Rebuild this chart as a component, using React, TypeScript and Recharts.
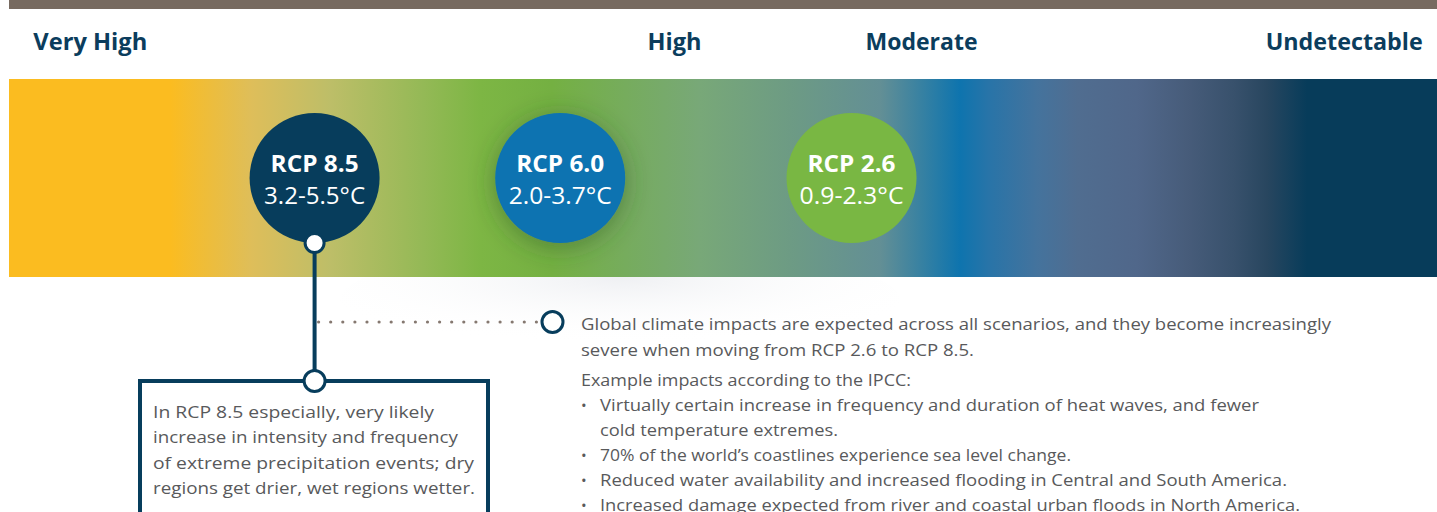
import React from 'react';
import { ScatterChart, Scatter, XAxis, YAxis, ReferenceArea, Customized } from 'recharts';

// scenarios placed along the risk scale (0 = very high risk, 100 = undetectable)
const scenarios = ['RCP 8.5', 'RCP 6.0', 'RCP 2.6'];
const warmingRanges = ['3.2-5.5°C', '2.0-3.7°C', '0.9-2.3°C'];
const scalePositions = [21.4, 38.6, 59.0];

const riskLabels = ['Very High', 'High', 'Moderate', 'Undetectable'];
const riskTicks = [1.7, 46.6, 63.9, 99.0];

const calloutScenario = 'RCP 8.5';
const calloutLines = [
    'In RCP 8.5 especially, very likely',
    'increase in intensity and frequency',
    'of extreme precipitation events; dry',
    'regions get drier, wet regions wetter.',
];

const globalNote = [
    'Global climate impacts are expected across all scenarios, and they become increasingly',
    'severe when moving from RCP 2.6 to RCP 8.5.',
];
const examplesTitle = 'Example impacts according to the IPCC:';
const impactBullets = [
    ['Virtually certain increase in frequency and duration of heat waves, and fewer', 'cold temperature extremes.'],
    ['70% of the world\u2019s coastlines experience sea level change.'],
    ['Reduced water availability and increased flooding in Central and South America.'],
    ['Increased damage expected from river and coastal urban floods in North America.'],
];

const data = scenarios.map((name, i) => ({
    name,
    range: warmingRanges[i],
    pos: scalePositions[i],
    level: 0,
}));

// styling
const W = 1437;
const H = 512;
const NAVY = '#073D5C';
const TEXT = '#58595B';
const FONT = '"Open Sans", "Noto Sans", sans-serif';
const bubbleFill: Record<string, string> = { 'RCP 8.5': '#073D5C', 'RCP 6.0': '#0B73B1', 'RCP 2.6': '#79B743' };
const labelWidths = [114, 54, 112, 157];
const nameWidth = 88;
const rangeWidths: Record<string, number> = { 'RCP 8.5': 101, 'RCP 6.0': 103, 'RCP 2.6': 104 };
const calloutWidths = [281, 305, 321, 322];
const noteWidths = [750, 393];
const titleWidth = 330;
const bulletWidths = [[659, 238], [471], [687], [700]];

const gradientStops: [number, string][] = [
    [0, '#FBBC20'], [0.113, '#FBBC20'], [0.17, '#DEBE5A'], [0.225, '#BDBE68'],
    [0.29, '#94B956'], [0.33, '#7DB644'], [0.38, '#74B042'], [0.484, '#78A878'],
    [0.547, '#6D9B84'], [0.61, '#638F95'], [0.666, '#0E74AE'], [0.686, '#2874A8'],
    [0.72, '#44739D'], [0.748, '#506D90'], [0.79, '#50678A'], [0.825, '#475C7A'],
    [0.858, '#38516C'], [0.881, '#28465F'], [0.909, '#073C5A'], [1, '#073C5A'],
];

const RiskTick = (props: any) => {
    const { x, payload } = props;
    const i = riskTicks.indexOf(payload.value);
    if (i < 0) return null;
    const anchor = i === 0 ? 'start' : i === riskLabels.length - 1 ? 'end' : 'middle';
    return (
        <text x={x} y={50} textAnchor={anchor} fill="#0B3D5D" fontFamily={FONT} fontWeight={700} fontSize={23}
            textLength={labelWidths[i]} lengthAdjust="spacingAndGlyphs">
            {riskLabels[i]}
        </text>
    );
};

const Bubble = (props: any) => {
    const { cx, cy, payload } = props;
    const r = 65;
    const hasCallout = payload.name === calloutScenario;
    const boxTop = 381;
    const dotY = 322;
    const dots = [];
    for (let dx = cx + 4; dx <= 537; dx += 12.1) dots.push(dx);
    return (
        <g>
            {hasCallout && (
                <g>
                    <line x1={cx} y1={cy + r} x2={cx} y2={boxTop} stroke={NAVY} strokeWidth={4} />
                    {dots.map((d, k) => <circle key={k} cx={d} cy={dotY} r={1.6} fill="#857870" />)}
                    <circle cx={552.5} cy={dotY} r={10.5} fill="#fff" stroke={NAVY} strokeWidth={3} />
                    <rect x={140} y={boxTop} width={348} height={200} fill="#fff" stroke={NAVY} strokeWidth={4} />
                    {calloutLines.map((t, k) => (
                        <text key={k} x={153} y={418 + k * 25.3} fill={TEXT} fontFamily={FONT} fontSize={17}
                            textLength={calloutWidths[k]} lengthAdjust="spacingAndGlyphs">{t}</text>
                    ))}
                </g>
            )}
            <circle cx={cx} cy={cy} r={r} fill={bubbleFill[payload.name]}
                filter={payload.name === 'RCP 6.0' ? 'url(#bubbleShadow)' : undefined} />
            <text x={cx} y={172} textAnchor="middle" fill="#fff" fontFamily={FONT} fontWeight={700} fontSize={23}
                textLength={nameWidth} lengthAdjust="spacingAndGlyphs">{payload.name}</text>
            <text x={cx} y={204} textAnchor="middle" fill="#fff" fontFamily={FONT} fontSize={24}
                textLength={rangeWidths[payload.name]} lengthAdjust="spacingAndGlyphs">{payload.range}</text>
            {hasCallout && (
                <g>
                    <circle cx={cx} cy={cy + r} r={9.5} fill="#fff" stroke={NAVY} strokeWidth={3} />
                    <circle cx={cx} cy={boxTop} r={10.5} fill="#fff" stroke={NAVY} strokeWidth={3} />
                </g>
            )}
        </g>
    );
};

const Decorations = () => (
    <g>
        <rect x={9} y={0} width={W - 9} height={9} fill="#776A60" />
        <ellipse cx={620} cy={300} rx={280} ry={55} fill="url(#groundShade)" />
    </g>
);

const GlobalNote = () => (
    <g fontFamily={FONT} fontSize={17} fill={TEXT}>
        {globalNote.map((t, k) => (
            <text key={k} x={581} y={330 + k * 26} textLength={noteWidths[k]} lengthAdjust="spacingAndGlyphs">{t}</text>
        ))}
        <text x={581} y={386} textLength={titleWidth} lengthAdjust="spacingAndGlyphs">{examplesTitle}</text>
        {(() => {
            let y = 411;
            const out: React.ReactNode[] = [];
            impactBullets.forEach((lines, b) => {
                out.push(<text key={'b' + b} x={581} y={y} fontSize={15}>•</text>);
                lines.forEach((t, k) => {
                    out.push(
                        <text key={b + '-' + k} x={600} y={y} textLength={bulletWidths[b][k]} lengthAdjust="spacingAndGlyphs">{t}</text>
                    );
                    y += 25;
                });
            });
            return out;
        })()}
    </g>
);

export default function App() {
    return (
        <div style={{ position: 'absolute', left: 0, top: 0, width: W, height: H, background: '#fff' }}>
            <ScatterChart width={W} height={H} margin={{ top: 19, right: 0, bottom: 235, left: 9 }}>
                <defs>
                    <linearGradient id="riskScale" x1="0" y1="0" x2="1" y2="0">
                        {gradientStops.map(([o, c], k) => <stop key={k} offset={o} stopColor={c} />)}
                    </linearGradient>
                    <radialGradient id="groundShade" cx="0.5" cy="0.3" r="0.6">
                        <stop offset="0%" stopColor="#E8EAEE" stopOpacity={0.7} />
                        <stop offset="100%" stopColor="#FFFFFF" stopOpacity={0} />
                    </radialGradient>
                    <filter id="bubbleShadow" x="-50%" y="-50%" width="200%" height="200%">
                        <feDropShadow dx={0} dy={4} stdDeviation={13} floodColor="#2B4A2A" floodOpacity={0.45} />
                    </filter>
                </defs>
                <Customized component={Decorations} />
                <XAxis dataKey="pos" type="number" domain={[0, 100]} orientation="top" height={60}
                    ticks={riskTicks} interval={0} axisLine={false} tickLine={false} tick={<RiskTick />} />
                <YAxis dataKey="level" type="number" domain={[-1, 1]} hide />
                <ReferenceArea x1={0} x2={100} y1={-1} y2={1} fill="url(#riskScale)" fillOpacity={1} stroke="none" />
                <Customized component={GlobalNote} />
                <Scatter data={data} shape={<Bubble />} isAnimationActive={false} />
            </ScatterChart>
        </div>
    );
}
